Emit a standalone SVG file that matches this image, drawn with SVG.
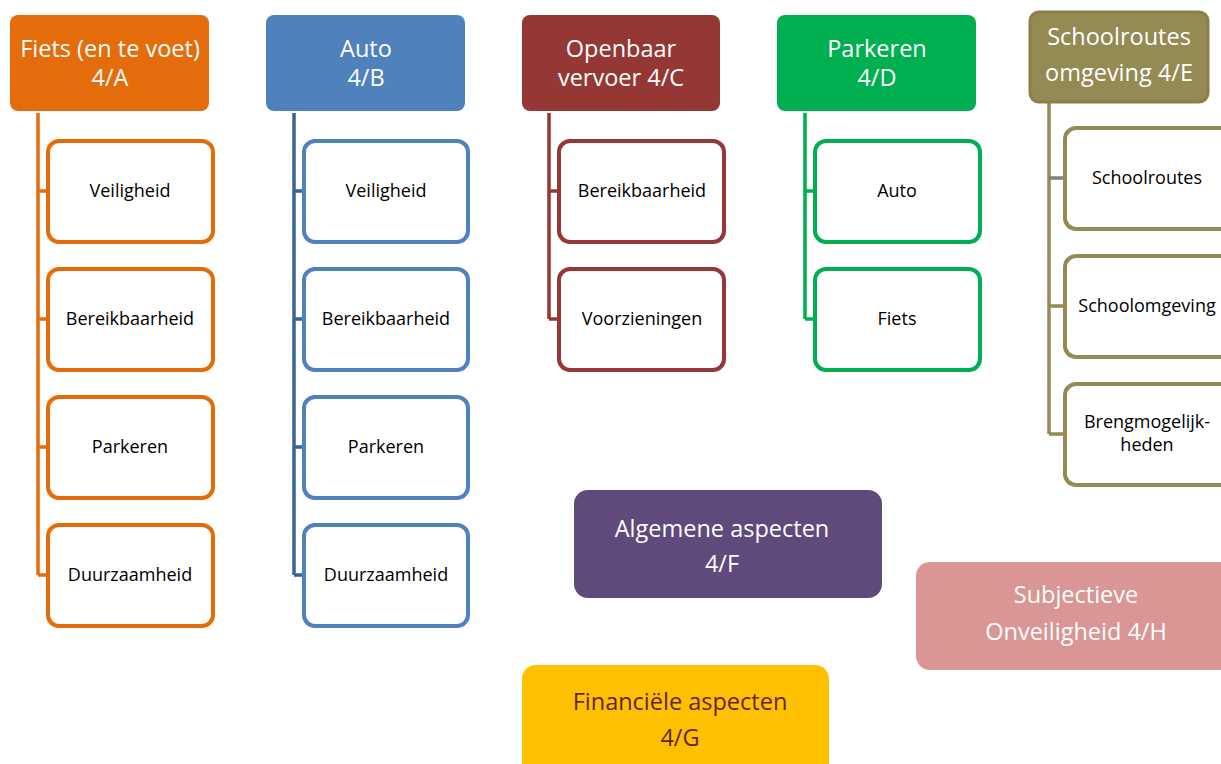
<svg xmlns="http://www.w3.org/2000/svg" width="1221" height="764" viewBox="0 0 1221 764">
<style>
.hdr{font-family:"Open Sans","Liberation Sans",sans-serif;font-size:23.5px;fill:#fff;text-anchor:middle}
.sub{font-family:"Open Sans","Liberation Sans",sans-serif;font-size:18px;fill:#000;text-anchor:middle}
.ch{fill:#fff;stroke-width:4}
.ln{fill:none;stroke-width:3.5}
</style>
<rect width="1221" height="764" fill="#fff"/>
<g id="connectors">
  <path class="ln" stroke="#E46C0A" d="M38 113V575M38 191H47M38 319H47M38 447H47M38 575H47"/>
  <path class="ln" stroke="#3A6399" d="M294 113V575M294 191H304M294 319H304M294 447H304M294 575H304"/>
  <path class="ln" stroke="#953735" d="M549 113V319M549 191H559M549 319H559"/>
  <path class="ln" stroke="#00B050" d="M805 113V319M805 191H815M805 319H815"/>
  <path class="ln" stroke="#948A54" d="M1049 103V434M1049 306H1064M1049 434H1064"/>
  <path class="ln" stroke="#7F7F7F" d="M1049 178H1064"/>
</g>
<g id="nodeA">
  <rect x="10" y="15" width="199" height="96" rx="8" fill="#E46C0A"/>
  <text class="hdr" x="110" y="57">Fiets (en te voet)</text>
  <text class="hdr" x="110" y="86">4/A</text>
</g>
<g id="nodeA1"><rect class="ch" stroke="#E46C0A" x="48" y="141" width="165" height="101" rx="11"/><text class="sub" x="130" y="197">Veiligheid</text></g>
<g id="nodeA2"><rect class="ch" stroke="#E46C0A" x="48" y="269" width="165" height="101" rx="11"/><text class="sub" x="130" y="325">Bereikbaarheid</text></g>
<g id="nodeA3"><rect class="ch" stroke="#E46C0A" x="48" y="397" width="165" height="101" rx="11"/><text class="sub" x="130" y="453">Parkeren</text></g>
<g id="nodeA4"><rect class="ch" stroke="#E46C0A" x="48" y="525" width="165" height="101" rx="11"/><text class="sub" x="130" y="581">Duurzaamheid</text></g>
<g id="nodeB">
  <rect x="266" y="15" width="199" height="96" rx="8" fill="#4F81BD"/>
  <text class="hdr" x="366" y="57">Auto</text>
  <text class="hdr" x="366" y="86">4/B</text>
</g>
<g id="nodeB1"><rect class="ch" stroke="#4F81BD" x="304" y="141" width="164" height="101" rx="11"/><text class="sub" x="386" y="197">Veiligheid</text></g>
<g id="nodeB2"><rect class="ch" stroke="#4F81BD" x="304" y="269" width="164" height="101" rx="11"/><text class="sub" x="386" y="325">Bereikbaarheid</text></g>
<g id="nodeB3"><rect class="ch" stroke="#4F81BD" x="304" y="397" width="164" height="101" rx="11"/><text class="sub" x="386" y="453">Parkeren</text></g>
<g id="nodeB4"><rect class="ch" stroke="#4F81BD" x="304" y="525" width="164" height="101" rx="11"/><text class="sub" x="386" y="581">Duurzaamheid</text></g>
<g id="nodeC">
  <rect x="522" y="15" width="198" height="96" rx="8" fill="#953735"/>
  <text class="hdr" x="621" y="57">Openbaar</text>
  <text class="hdr" x="621" y="86">vervoer 4/C</text>
</g>
<g id="nodeC1"><rect class="ch" stroke="#953735" x="559" y="141" width="165" height="101" rx="11"/><text class="sub" x="642" y="197">Bereikbaarheid</text></g>
<g id="nodeC2"><rect class="ch" stroke="#953735" x="559" y="269" width="165" height="101" rx="11"/><text class="sub" x="642" y="325">Voorzieningen</text></g>
<g id="nodeD">
  <rect x="777" y="15" width="199" height="96" rx="8" fill="#00B050"/>
  <text class="hdr" x="877" y="57">Parkeren</text>
  <text class="hdr" x="877" y="86">4/D</text>
</g>
<g id="nodeD1"><rect class="ch" stroke="#00B050" x="815" y="141" width="165" height="101" rx="11"/><text class="sub" x="897" y="197">Auto</text></g>
<g id="nodeD2"><rect class="ch" stroke="#00B050" x="815" y="269" width="165" height="101" rx="11"/><text class="sub" x="897" y="325">Fiets</text></g>
<g id="nodeE">
  <rect x="1030" y="12" width="178" height="90" rx="9" fill="#948A54" stroke="#8A8049" stroke-width="3"/>
  <text class="hdr" x="1119" y="45">Schoolroutes</text>
  <text class="hdr" x="1119" y="81">omgeving 4/E</text>
</g>
<g id="nodeE1"><rect class="ch" stroke="#948A54" x="1065" y="128" width="170" height="101" rx="11"/><text class="sub" x="1147" y="184">Schoolroutes</text></g>
<g id="nodeE2"><rect class="ch" stroke="#948A54" x="1065" y="256" width="170" height="101" rx="11"/><text class="sub" x="1147" y="312">Schoolomgeving</text></g>
<g id="nodeE3"><rect class="ch" stroke="#948A54" x="1065" y="384" width="170" height="101" rx="11"/><text class="sub" x="1147" y="428">Brengmogelijk-</text><text class="sub" x="1147" y="451">heden</text></g>
<g id="nodeF">
  <rect x="574" y="490" width="308" height="108" rx="14" fill="#604A7B"/>
  <text class="hdr" x="722" y="537">Algemene aspecten</text>
  <text class="hdr" x="722" y="572">4/F</text>
</g>
<g id="nodeG">
  <rect x="522" y="665" width="307" height="120" rx="14" fill="#FFC000"/>
  <text class="hdr" x="680" y="710" style="fill:#632523">Financiële aspecten</text>
  <text class="hdr" x="680" y="746" style="fill:#632523">4/G</text>
</g>
<g id="nodeH">
  <rect x="916" y="562" width="320" height="108" rx="14" fill="#D99694"/>
  <text class="hdr" x="1076" y="603">Subjectieve</text>
  <text class="hdr" x="1076" y="640">Onveiligheid 4/H</text>
</g>
</svg>
